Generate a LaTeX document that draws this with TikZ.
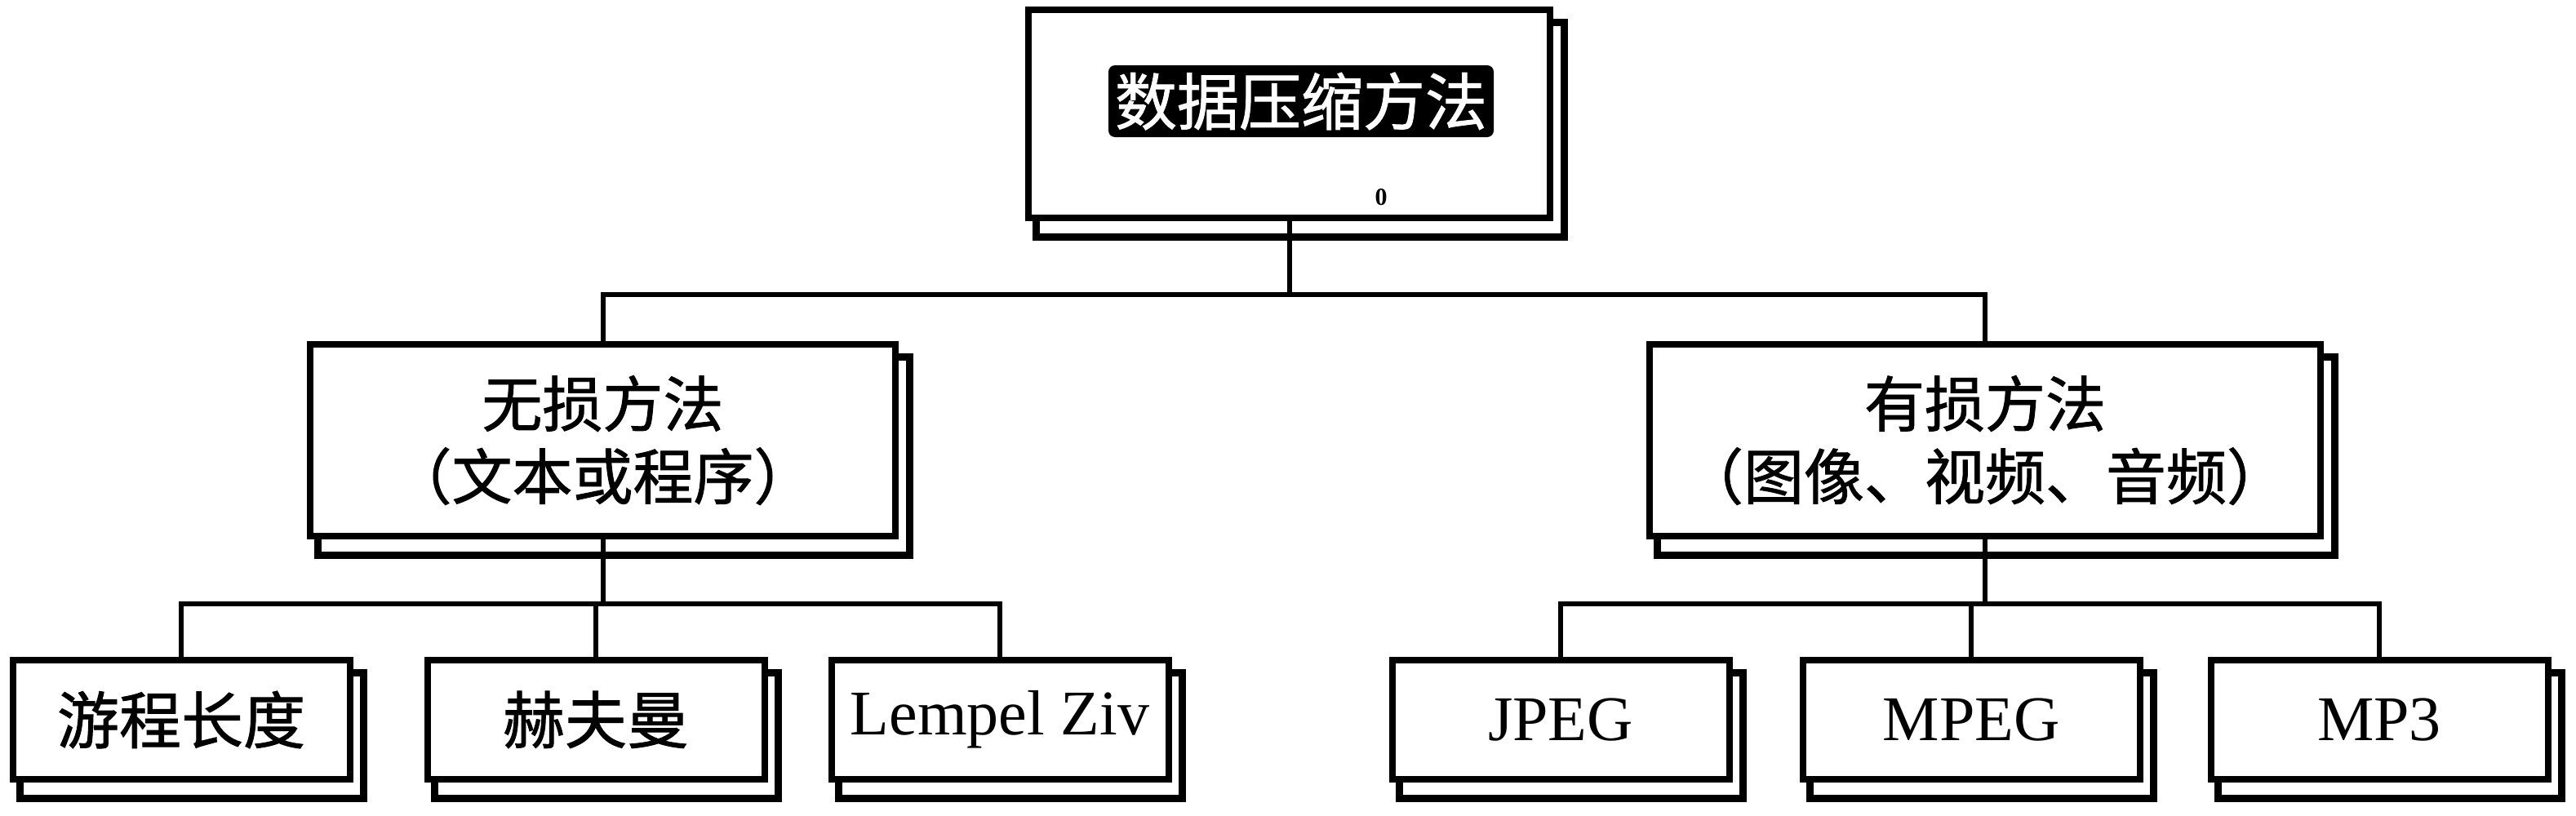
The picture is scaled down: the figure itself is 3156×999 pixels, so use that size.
\documentclass[tikz,border=0pt]{standalone}
\usepackage{fontspec}
\setmainfont{Liberation Serif}
\newfontfamily\cjk[FakeBold=1.2]{Noto Sans CJK SC}
\usetikzlibrary{backgrounds}
\begin{document}
\begin{tikzpicture}[x=1pt,y=-1pt,
  box/.style={draw, line width=8pt, fill=white, rectangle, inner sep=0pt, align=center},
  midbox/.style={box, minimum height=235pt, font=\cjk\fontsize{74}{89}\selectfont},
  leafbox/.style={box, minimum width=413pt, minimum height=146pt},
  cjkleaf/.style={font=\cjk\fontsize{76}{80}\selectfont},
  latleaf/.style={font=\fontsize{78}{80}\selectfont},
  conn/.style={line width=6pt},
  shad/.style={draw, line width=9pt}]
\useasboundingbox (0,0) rectangle (3156,999);
% top
\node[box, minimum width=639pt, minimum height=255pt] (top) at (1579.5,139.5) {};
\node[fill=black, text=white, inner sep=0pt, minimum width=472pt, minimum height=88pt,
      rounded corners=8pt, font=\cjk\fontsize{76}{80}\selectfont] (toptext) at (1594,124) {数据压缩方法};
\node[font=\bfseries\fontsize{30}{32}\selectfont, inner sep=0pt] (zero) at (1692,242) {0};
% level 2
\node[midbox, minimum width=717pt] (L) at (738.5,539.5) {无损方法\\（文本或程序）};
\node[midbox, minimum width=822pt] (R) at (2432,539.5) {有损方法\\（图像、视频、音频）};
% leaves
\node[leafbox, cjkleaf] (l1) at (222,882) {游程长度};
\node[leafbox, cjkleaf] (l2) at (730,882) {赫夫曼};
\node[leafbox, latleaf] (l3) at (1225,882) {Lempel Ziv};
\node[leafbox, latleaf] (r1) at (1912,882) {JPEG};
\node[leafbox, latleaf] (r2) at (2415,882) {MPEG};
\node[leafbox, latleaf] (r3) at (2915,882) {MP3};
% shadows
\begin{scope}[on background layer]
  \foreach \n in {top,L,R,l1,l2,l3,r1,r2,r3}{
    \draw[shad] ([shift={(13,19)}]\n.north west) rectangle ([shift={(13,19)}]\n.south east);
  }
\end{scope}
% connectors
\coordinate (bar1) at (0,361);
\coordinate (bar2) at (0,740);
\draw[conn] (top.south) -- (top.south |- bar1);
\draw[conn] (L.north) |- (R.north |- bar1) -- (R.north);
\draw[conn] (L.south) -- (L.south |- bar2);
\draw[conn] (l1.north) |- (l3.north |- bar2) -- (l3.north);
\draw[conn] (l2.north) -- (l2.north |- bar2);
\draw[conn] (R.south) -- (R.south |- bar2);
\draw[conn] (r1.north) |- (r3.north |- bar2) -- (r3.north);
\draw[conn] (r2.north) -- (r2.north |- bar2);
\end{tikzpicture}
\end{document}
